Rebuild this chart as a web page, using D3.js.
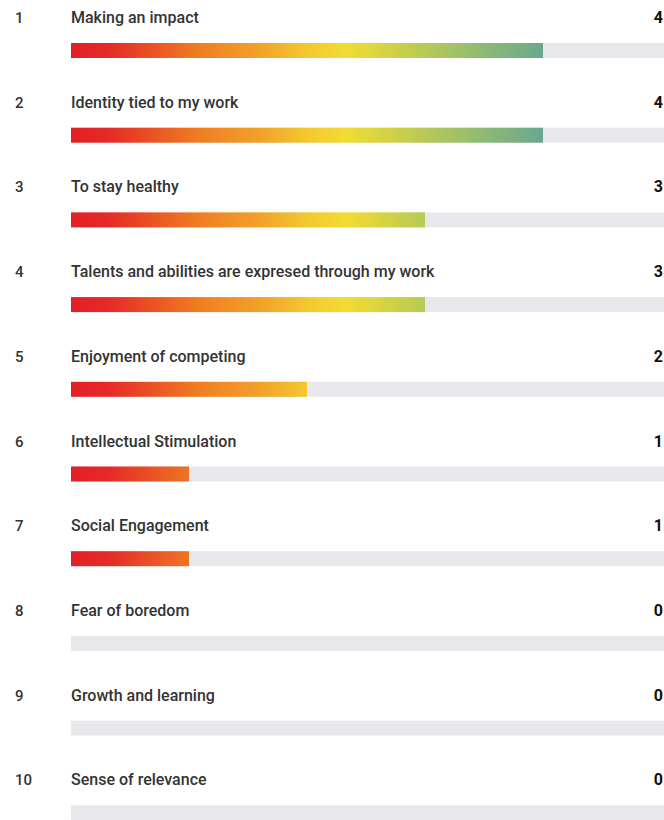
<!DOCTYPE html>
<html>
<head>
<meta charset="utf-8">
<script src="https://cdn.jsdelivr.net/npm/d3@7"></script>
<style>
  html, body { margin: 0; padding: 0; background: #fff; overflow: hidden; }
  svg { display: block; font-family: Roboto, "Open Sans", sans-serif; }
</style>
</head>
<body>
<svg id="chart"></svg>
<script>
var width = 664,
    height = 820;

var ranks = [1, 2, 3, 4, 5, 6, 7, 8, 9, 10];
var labels = ["Making an impact", "Identity tied to my work", "To stay healthy",
    "Talents and abilities are expresed through my work", "Enjoyment of competing",
    "Intellectual Stimulation", "Social Engagement", "Fear of boredom",
    "Growth and learning", "Sense of relevance"];
var values = [4, 4, 3, 3, 2, 1, 1, 0, 0, 0];

var svg = d3.select("#chart")
    .attr("width", width)
    .attr("height", height);

var xScale = d3.scaleLinear().domain([0, 5]).range([71, 661]),
    yScale = d3.scaleBand().domain(ranks).range([-5, 842]);

// one gradient for all bars, in page space, so short bars stay red/orange
var grad = svg.append("defs").append("linearGradient")
    .attr("id", "barGrad")
    .attr("gradientUnits", "userSpaceOnUse")
    .attr("x1", xScale(0)).attr("x2", xScale(4))
    .attr("y1", 0).attr("y2", 0);

grad.selectAll("stop")
    .data([[0, "#e41f28"], [0.08, "#e52a26"], [0.27, "#ef7d22"], [0.4, "#f2a12a"],
           [0.5, "#f3c82e"], [0.58, "#f2dc32"], [0.7, "#c9cf4a"], [0.85, "#96bd6f"],
           [1, "#68a78f"]])
    .enter().append("stop")
    .attr("offset", function(d) { return d[0]; })
    .attr("stop-color", function(d) { return d[1]; });

var rows = svg.selectAll("g.row")
    .data(ranks)
    .enter()
    .append("g")
    .attr("class", "row")
    .attr("transform", function(d) { return "translate(0," + yScale(d) + ")"; });

rows.append("text")
    .attr("x", 15).attr("y", 28)
    .attr("font-size", 15)
    .attr("font-weight", 500)
    .attr("fill", "#333")
    .text(function(d) { return d; });

rows.append("text")
    .attr("x", 71).attr("y", 28)
    .attr("font-size", 16)
    .attr("font-weight", 500)
    .attr("fill", "#333")
    .text(function(d, i) { return labels[i]; });

rows.append("text")
    .attr("x", 663).attr("y", 28)
    .attr("text-anchor", "end")
    .attr("font-size", 16)
    .attr("font-weight", 700)
    .attr("fill", "#111")
    .text(function(d, i) { return values[i]; });

rows.append("rect")
    .attr("x", xScale(0)).attr("y", 48)
    .attr("width", width - xScale(0) + 10)
    .attr("height", 15)
    .attr("fill", "#e8e8ec");

rows.append("rect")
    .attr("x", xScale(0)).attr("y", 48)
    .attr("width", function(d, i) { return xScale(values[i]) - xScale(0); })
    .attr("height", 15)
    .attr("fill", "url(#barGrad)");
</script>
</body>
</html>
